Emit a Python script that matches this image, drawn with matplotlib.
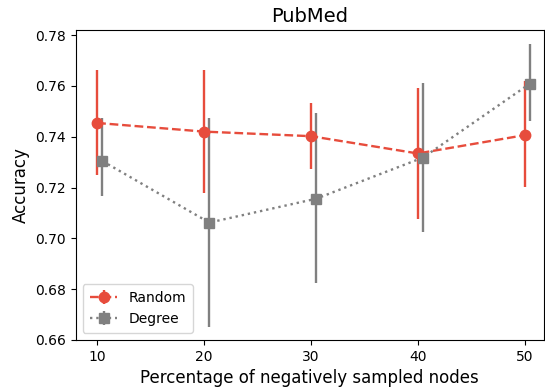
import matplotlib
matplotlib.use("Agg")
import matplotlib.pyplot as plt
import numpy as np

x = [10, 20, 30, 40, 50]
random_mean = [0.7454, 0.7420, 0.7402, 0.7334, 0.7406]
random_lo = [0.7249, 0.7178, 0.7272, 0.7078, 0.7202]
random_hi = [0.7662, 0.7662, 0.7532, 0.7591, 0.7619]
degree_mean = [0.7304, 0.7062, 0.7156, 0.7318, 0.7609]
degree_lo = [0.7166, 0.6652, 0.6824, 0.7026, 0.7461]
degree_hi = [0.7473, 0.7473, 0.7493, 0.7611, 0.7765]

fig = plt.figure(figsize=(5.45, 3.89), dpi=100)
ax = fig.add_axes([0.139, 0.126, 0.859, 0.797])

rm = np.array(random_mean); dm = np.array(degree_mean)
ax.errorbar(x, rm, yerr=[rm - np.array(random_lo), np.array(random_hi) - rm],
            fmt='o', linestyle='--', color='#E74C3C', markersize=7.5, lw=1.7,
            elinewidth=1.7, label='Random')
xd = np.array(x) + 0.5
ax.errorbar(xd, dm, yerr=[dm - np.array(degree_lo), np.array(degree_hi) - dm],
            fmt='s', linestyle=':', color='#808080', markersize=7.5, lw=1.7,
            elinewidth=1.7, label='Degree')

ax.set_xlim(8.0, 51.8)
ax.set_ylim(0.66, 0.782)
ax.set_xticks(x)
ax.set_yticks([0.66, 0.68, 0.70, 0.72, 0.74, 0.76, 0.78])
ax.tick_params(labelsize=10)
ax.set_xlabel('Percentage of negatively sampled nodes', fontsize=12)
ax.set_ylabel('Accuracy', fontsize=12)
ax.set_title('PubMed', fontsize=14)
ax.legend(loc='lower left', fontsize=10, borderpad=0.5)

fig.savefig('out.png', dpi=100)
